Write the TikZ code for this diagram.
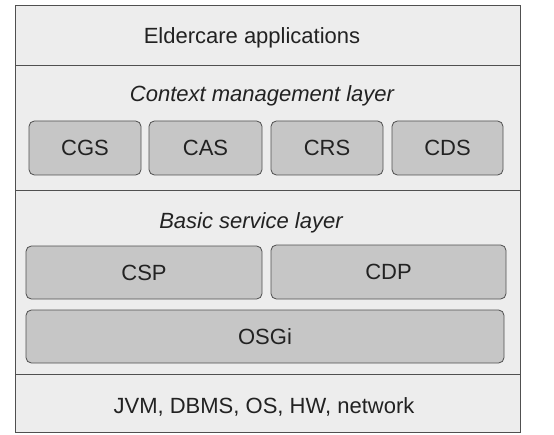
\documentclass[tikz,border=0pt]{standalone}
\usepackage{fontspec}
\setmainfont{Liberation Sans}
\definecolor{bgc}{HTML}{EDEDED}
\definecolor{boxc}{HTML}{C6C6C6}
\definecolor{linec}{HTML}{505050}
\definecolor{txtc}{HTML}{222222}
\begin{document}
\begin{tikzpicture}[x=0.75pt,y=-0.75pt,
  layer/.style={draw=linec,fill=bgc,line width=0.8pt,inner sep=0pt,anchor=north west},
  comp/.style={draw=linec,fill=boxc,line width=0.6pt,rounded corners=4pt,inner sep=0pt,text=txtc,
     font=\fontsize{16.5}{19}\selectfont},
  lbl/.style={text=txtc,inner sep=0pt,font=\fontsize{16.5}{19}\selectfont},
  ilbl/.style={lbl,font=\fontsize{16.5}{19}\selectfont\itshape}]
\useasboundingbox (0,0) rectangle (554,435);
% layers
\node[layer,minimum width=505*0.75pt,minimum height=60*0.75pt] (app) at (15,5) {};
\node[layer,minimum width=505*0.75pt,minimum height=125*0.75pt] (ctx) at (15,65) {};
\node[layer,minimum width=505*0.75pt,minimum height=184*0.75pt] (bsl) at (15,190) {};
\node[layer,minimum width=505*0.75pt,minimum height=58*0.75pt] (hw) at (15,374) {};
% labels
\node[lbl] (tapp) at (252,38) {Eldercare applications};
\node[ilbl] (tctx) at (262,96) {Context management layer};
\node[ilbl] (tbsl) at (251,223) {Basic service layer};
\node[lbl] (thw) at (264,407) {JVM, DBMS, OS, HW, network};
% context components
\node[comp,minimum width=112*0.75pt,minimum height=54*0.75pt] (cgs) at (85,148) {CGS};
\node[comp,minimum width=113*0.75pt,minimum height=54*0.75pt] (cas) at (205.5,148) {CAS};
\node[comp,minimum width=112*0.75pt,minimum height=54*0.75pt] (crs) at (327,148) {CRS};
\node[comp,minimum width=111*0.75pt,minimum height=54*0.75pt] (cds) at (447.5,148) {CDS};
% basic service components
\node[comp,minimum width=236*0.75pt,minimum height=53*0.75pt] (csp) at (144,272.5) {CSP};
\node[comp,minimum width=235*0.75pt,minimum height=54*0.75pt] (cdp) at (388.5,272) {CDP};
\node[comp,minimum width=478*0.75pt,minimum height=53*0.75pt] (osgi) at (265,336.5) {OSGi};
\end{tikzpicture}
\end{document}
